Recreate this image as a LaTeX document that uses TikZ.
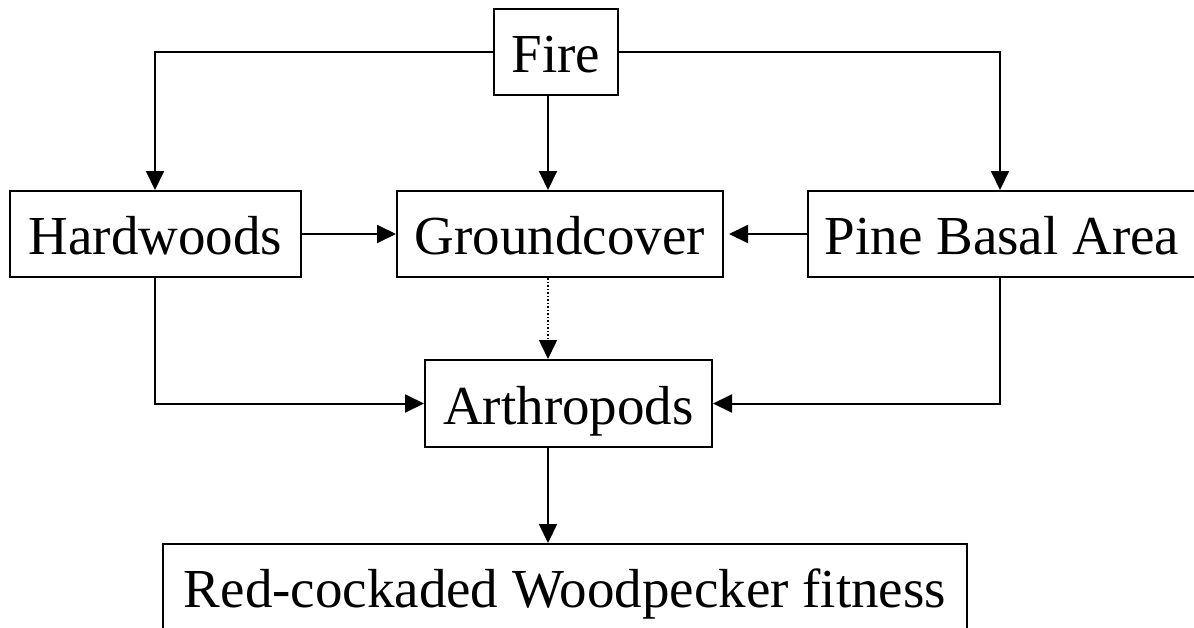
\documentclass[tikz,border=0pt]{standalone}
\usepackage{fontspec}
\setmainfont{Liberation Serif}
\usetikzlibrary{arrows.meta}
\begin{document}
\begin{tikzpicture}[x=1pt,y=-1pt,
  box/.style={draw, line width=2pt, inner sep=0pt, font=\fontsize{55}{60}\selectfont,
    text height=41pt, text depth=0pt, minimum height=86pt},
  arr/.style={line width=2pt, -{Triangle[length=19pt,width=18pt]}},
  dotarr/.style={line width=1.5pt, dotted, -{Triangle[length=19pt,width=18pt]}}]
\clip (0,0) rectangle (1194,627);
\fill[white] (0,0) rectangle (1194,627);
\node[box, minimum width=124pt] (fire) at (556,52) {Fire};
\node[box, minimum width=291pt] (hw) at (155.5,234) {Hardwoods};
\node[box, minimum width=326pt] (gc) at (560,234) {Groundcover};
\node[box, minimum width=388pt] (pba) at (1002,234) {Pine Basal Area};
\node[box, minimum width=287pt, minimum height=87pt] (ar) at (568.5,403.5) {Arthropods};
\node[box, minimum width=804pt] (rc) at (565,587) {Red-cockaded Woodpecker fitness};
\coordinate (cx) at (548,0);
\coordinate (lx) at (155,0);
\coordinate (rx) at (1000,0);
\draw[arr] (fire.west) -| (hw.north -| lx);
\draw[arr] (fire.east) -| (pba.north -| rx);
\draw[arr] (fire.south -| cx) -- (gc.north -| cx);
\draw[arr] (hw.east) -- (gc.west);
\draw[arr, shorten >=5pt] (pba.west) -- (gc.east);
\draw[dotarr] (gc.south -| cx) -- (ar.north -| cx);
\draw[arr] (hw.south -| lx) |- (ar.west);
\draw[arr] (pba.south -| rx) |- (ar.east);
\draw[arr] (ar.south -| cx) -- (rc.north -| cx);
\end{tikzpicture}
\end{document}
